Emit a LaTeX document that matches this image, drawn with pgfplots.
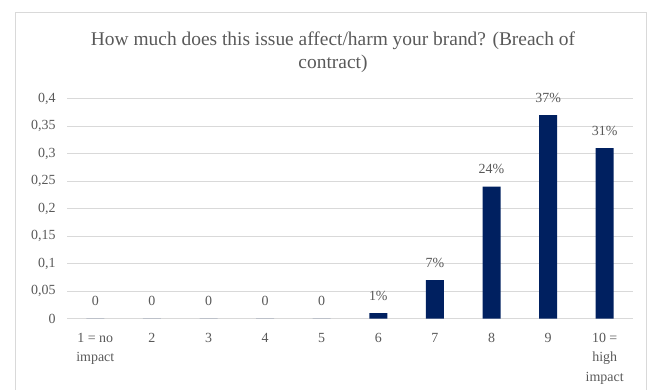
\documentclass[border=0pt]{standalone}
\usepackage{fontspec}
\setmainfont{Liberation Serif}
\usepackage{pgfplots}
\pgfplotsset{compat=1.18}
\definecolor{barblue}{HTML}{002060}
\definecolor{txt}{HTML}{595959}
\definecolor{gridc}{HTML}{D9D9D9}
\begin{document}
\begin{tikzpicture}[x=1bp,y=1bp]
\path[use as bounding box] (0,0) rectangle (659,389);
\draw[gridc, line width=1bp] (15,-2) -- (15,376) -- (646,376) -- (646,-2);
\node[align=center, text=txt, font=\fontsize{19.5}{23}\selectfont] at (333,336.5) {How much does this issue affect/harm your brand? (Breach of\\contract)};
\begin{axis}[at={(67bp,70.5bp)}, anchor=south west, scale only axis,
  width=566bp, height=220bp,
  xmin=0.5, xmax=10.5, ymin=0, ymax=0.4,
  ytick={0,0.05,0.1,0.15,0.2,0.25,0.3,0.35,0.4},
  yticklabels={0,{0,05},{0,1},{0,15},{0,2},{0,25},{0,3},{0,35},{0,4}},
  xtick={1,2,3,4,5,6,7,8,9,10},
  xticklabels={{1 = no\\impact},2,3,4,5,6,7,8,9,{10 =\\high\\impact}},
  axis line style={draw=none},
  ymajorgrids, grid style={gridc, line width=1bp},
  major tick length=0pt,
  xticklabel style={align=center, text=txt, font=\fontsize{14}{19.5}\selectfont, yshift=-11bp},
  yticklabel style={text=txt, font=\fontsize{14}{19.5}\selectfont, xshift=-8bp},
  ybar, bar width=18bp,
  nodes near coords, point meta=explicit symbolic,
  nodes near coords style={text=txt, font=\fontsize{14}{19.5}\selectfont, yshift=9bp},
]
\addplot[fill=barblue, draw=none] coordinates {
(1,0) [0]
(2,0) [0]
(3,0) [0]
(4,0) [0]
(5,0) [0]
(6,0.01) [1\%]
(7,0.07) [7\%]
(8,0.24) [24\%]
(9,0.37) [37\%]
(10,0.31) [31\%]
};
\end{axis}
\end{tikzpicture}
\end{document}
